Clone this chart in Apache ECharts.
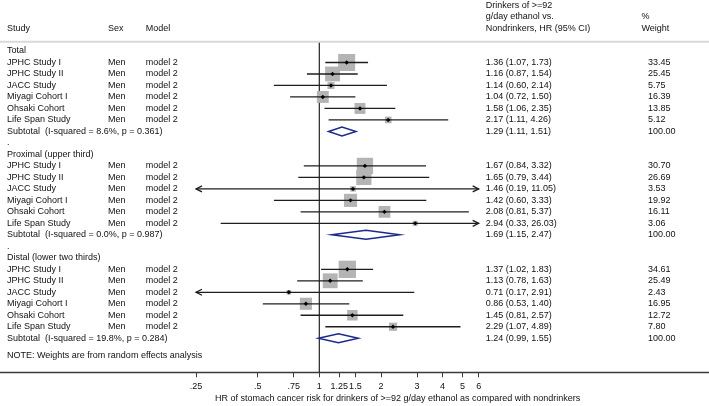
<!DOCTYPE html>
<html><head><meta charset="utf-8">
<script src="https://cdn.jsdelivr.net/npm/echarts@6/dist/echarts.min.js"></script>
<style>html,body{margin:0;padding:0;background:#fff}#c{width:709px;height:406px}</style>
</head><body><div id="c"></div>
<script>
// ---------------- data ----------------
const studies = ['JPHC Study I', 'JPHC Study II', 'JACC Study', 'Miyagi Cohort I', 'Ohsaki Cohort', 'Life Span Study'];
const sexLabel = 'Men';
const modelLabel = 'model 2';
const sectionNames = ['Total', 'Proximal (upper third)', 'Distal (lower two thirds)'];

const totalHR = [1.36, 1.16, 1.14, 1.04, 1.58, 2.17];
const totalLo = [1.07, 0.87, 0.60, 0.72, 1.06, 1.11];
const totalHi = [1.73, 1.54, 2.14, 1.50, 2.35, 4.26];
const totalW  = [33.45, 25.45, 5.75, 16.39, 13.85, 5.12];

const proximalHR = [1.67, 1.65, 1.46, 1.42, 2.08, 2.94];
const proximalLo = [0.84, 0.79, 0.19, 0.60, 0.81, 0.33];
const proximalHi = [3.32, 3.44, 11.05, 3.33, 5.37, 26.03];
const proximalW  = [30.70, 26.69, 3.53, 19.92, 16.11, 3.06];

const distalHR = [1.37, 1.13, 0.71, 0.86, 1.45, 2.29];
const distalLo = [1.02, 0.78, 0.17, 0.53, 0.81, 1.07];
const distalHi = [1.83, 1.63, 2.91, 1.40, 2.57, 4.89];
const distalW  = [34.61, 25.49, 2.43, 16.95, 12.72, 7.80];

const subtotalHR = [1.29, 1.69, 1.24];
const subtotalLo = [1.11, 1.15, 0.99];
const subtotalHi = [1.51, 2.47, 1.55];
const iSquared = ['8.6%', '0.0%', '19.8%'];
const pValues = ['0.361', '0.987', '0.284'];

const tickValues = [0.25, 0.5, 0.75, 1, 1.25, 1.5, 2, 3, 4, 5, 6];
const tickLabels = ['.25', '.5', '.75', '1', '1.25', '1.5', '2', '3', '4', '5', '6'];
const plotMinHR = 0.25, plotMaxHR = 6;

const headerHR = ['Drinkers of >=92', 'g/day ethanol vs.', 'Nondrinkers, HR (95% CI)'];
const headerW = ['%', 'Weight'];
const noteText = 'NOTE: Weights are from random effects analysis';
const axisTitle = 'HR of stomach cancer risk for drinkers of >=92 g/day ethanol as compared with nondrinkers';

// ---------------- layout ----------------
const W = 709, H = 406;
const pxPerLn = 88.95, xAtMin = 196;           // .25 sits at x=196
const xMinLn = Math.log(plotMinHR) - xAtMin / pxPerLn;
const xMaxLn = Math.log(plotMinHR) + (W - xAtMin) / pxPerLn;
const axisY = 372.3;
const rowPitch = 11.49, row0Y = 51.0;
const yMin = -row0Y / rowPitch;
const yMax = (axisY - row0Y) / rowPitch;
const colStudy = 7, colSex = 108, colModel = 145.7, colHR = 485.7, colW = 648, colWHead = 641.5;
const FONT = '"Liberation Sans", Arial, Helvetica, sans-serif';
const TXT = '#111';

const secHR = [totalHR, proximalHR, distalHR];
const secLo = [totalLo, proximalLo, distalLo];
const secHi = [totalHi, proximalHi, distalHi];
const secW  = [totalW, proximalW, distalW];

const studyData = [];
const subData = [];
const textItems = [];
function addText(row, x, s) { textItems.push({ row, x, s }); }

addText(-4, colHR, headerHR[0]);
addText(-3, colHR, headerHR[1]);
addText(-3, colWHead, headerW[0]);
addText(-2, colStudy, 'Study');
addText(-2, colSex, 'Sex');
addText(-2, colModel, 'Model');
addText(-2, colHR, headerHR[2]);
addText(-2, colWHead, headerW[1]);

const f2 = v => v.toFixed(2);
sectionNames.forEach((name, si) => {
  const base = si * 9;
  addText(base, colStudy, name);
  studies.forEach((st, i) => {
    const r = base + 1 + i;
    studyData.push([secHR[si][i], r, secLo[si][i], secHi[si][i], secW[si][i]]);
    addText(r, colStudy, st);
    addText(r, colSex, sexLabel);
    addText(r, colModel, modelLabel);
    addText(r, colHR, f2(secHR[si][i]) + ' (' + f2(secLo[si][i]) + ', ' + f2(secHi[si][i]) + ')');
    addText(r, colW, f2(secW[si][i]));
  });
  const rs = base + 7;
  subData.push([subtotalHR[si], rs, subtotalLo[si], subtotalHi[si]]);
  addText(rs, colStudy, 'Subtotal  (I-squared = ' + iSquared[si] + ', p = ' + pValues[si] + ')');
  addText(rs, colHR, f2(subtotalHR[si]) + ' (' + f2(subtotalLo[si]) + ', ' + f2(subtotalHi[si]) + ')');
  addText(rs, colW, '100.00');
  if (si < 2) addText(base + 8, colStudy, '.');
});
addText(26.52, colStudy, noteText);

// ---------------- chart ----------------
const chart = echarts.init(document.getElementById('c'), null, { renderer: 'canvas' });
const lnTicks = tickValues.map(v => Math.log(v));

chart.setOption({
  animation: false,
  backgroundColor: '#fff',
  grid: { left: 0, right: 0, top: 0, bottom: H - axisY, containLabel: false },
  xAxis: {
    type: 'value', min: xMinLn, max: xMaxLn, position: 'bottom',
    splitLine: { show: false },
    axisLine: { show: true, onZero: false, lineStyle: { color: '#3a3a3a', width: 1.3 } },
    axisTick: { show: true, length: 5, customValues: lnTicks, lineStyle: { color: '#3a3a3a', width: 1 } },
    axisLabel: {
      show: true, customValues: lnTicks, margin: 9.5, fontSize: 9, fontFamily: FONT, color: TXT,
      formatter: v => {
        let best = 0, bd = 1e9;
        lnTicks.forEach((t, i) => { const d = Math.abs(t - v); if (d < bd) { bd = d; best = i; } });
        return tickLabels[best];
      }
    }
  },
  yAxis: { type: 'value', min: yMin, max: yMax, inverse: true, show: false },
  graphic: [{
    type: 'text', left: 215, top: 394.5,
    style: { text: axisTitle, font: '9px ' + FONT, fill: TXT }
  }],
  series: [
    {
      type: 'custom', name: 'refs', silent: true, clip: false,
      data: [[0, 0]],
      renderItem: (params, api) => {
        const yTop = api.coord([0, -0.81])[1];
        const yBot = api.coord([0, yMax])[1];
        const x1 = api.coord([0, 0])[0];
        return {
          type: 'group', children: [
            { type: 'rect', shape: { x: 0, y: yTop - 1, width: W, height: 2 }, style: { fill: '#d9d9d9' } },
            { type: 'line', shape: { x1: x1, y1: yTop + 1, x2: x1, y2: yBot }, style: { stroke: '#222', lineWidth: 1.2 } }
          ]
        };
      }
    },
    {
      type: 'custom', name: 'studies', silent: true, clip: false,
      data: studyData,
      renderItem: (params, api) => {
        const hr = api.value(0), row = api.value(1), lo = api.value(2), hi = api.value(3), w = api.value(4);
        const y = api.coord([0, row])[1];
        const xl = api.coord([Math.log(Math.max(lo, plotMinHR)), row])[0];
        const xr = api.coord([Math.log(Math.min(hi, plotMaxHR)), row])[0];
        const xc = api.coord([Math.log(hr), row])[0];
        const s = 2.94 * Math.sqrt(w);
        const lineSty = { stroke: '#1e1e1e', lineWidth: 1.3, fill: null };
        const ch = [
          { type: 'rect', shape: { x: xc - s / 2, y: y - s / 2, width: s, height: s }, style: { fill: '#b4b4b4' } },
          { type: 'line', shape: { x1: xl, y1: y, x2: xr, y2: y }, style: lineSty }
        ];
        if (lo < plotMinHR) ch.push({ type: 'polyline', shape: { points: [[xl + 6, y - 3], [xl, y], [xl + 6, y + 3]] }, style: lineSty });
        if (hi > plotMaxHR) ch.push({ type: 'polyline', shape: { points: [[xr - 6, y - 3], [xr, y], [xr - 6, y + 3]] }, style: lineSty });
        ch.push({ type: 'polygon', shape: { points: [[xc - 2.2, y], [xc, y - 2.2], [xc + 2.2, y], [xc, y + 2.2]] }, style: { fill: '#000' } });
        return { type: 'group', children: ch };
      }
    },
    {
      type: 'custom', name: 'subtotals', silent: true, clip: false,
      data: subData,
      renderItem: (params, api) => {
        const hr = api.value(0), row = api.value(1), lo = api.value(2), hi = api.value(3);
        const y = api.coord([0, row])[1];
        const xl = api.coord([Math.log(lo), row])[0];
        const xr = api.coord([Math.log(hi), row])[0];
        const xc = api.coord([Math.log(hr), row])[0];
        const h = 9;
        return {
          type: 'polygon',
          shape: { points: [[xl, y], [xc, y - h / 2], [xr, y], [xc, y + h / 2]] },
          style: { fill: '#fff', stroke: '#1c2a8c', lineWidth: 1.5 }
        };
      }
    },
    {
      type: 'custom', name: 'texts', silent: true, clip: false,
      data: textItems.map(t => [0, t.row]),
      renderItem: (params, api) => {
        const t = textItems[params.dataIndex];
        const y = api.coord([0, t.row])[1];
        return {
          type: 'text', x: t.x, y: y,
          style: { text: t.s, font: '9px ' + FONT, fill: TXT, textVerticalAlign: 'middle', verticalAlign: 'middle', textAlign: 'left', align: 'left' }
        };
      }
    }
  ]
});
</script>
</body></html>
